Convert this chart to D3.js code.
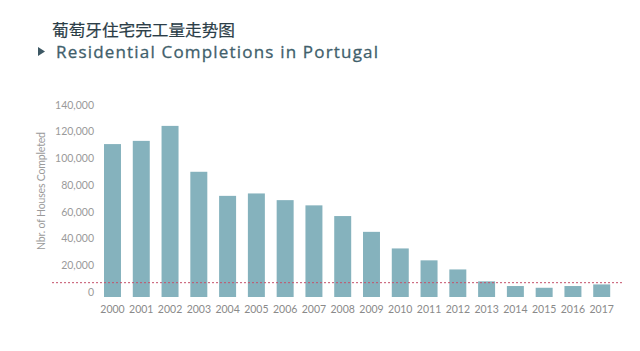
<!DOCTYPE html>
<html>
<head>
<meta charset="utf-8">
<script src="https://cdn.jsdelivr.net/npm/d3@7"></script>
<style>
    body { margin: 0; background: #fff; }
    #chart { width: 640px; height: 351px; }
    text { font-variant-ligatures: none; }
</style>
</head>
<body>
<div id="chart"></div>
<script>
// data
const years = ["2000", "2001", "2002", "2003", "2004", "2005", "2006", "2007", "2008",
    "2009", "2010", "2011", "2012", "2013", "2014", "2015", "2016", "2017"];
const completions = [114300, 116700, 127900, 93600, 75600, 77400, 72400, 68500, 60500,
    48700, 36300, 27400, 20600, 11700, 8200, 6900, 8200, 9400];
const yTicks = [0, 20000, 40000, 60000, 80000, 100000, 120000, 140000];
const refLine = 10700;

const titleCn = "葡萄牙住宅完工量走势图";
const titleEn = "Residential Completions in Portugal";
const yLabel = "Nbr. of Houses Completed";

let width = 640, height = 351;

let svg = d3.select("#chart").append("svg")
    .attr("width", width)
    .attr("height", height);

// titles
svg.append("text")
    .attr("x", 52)
    .attr("y", 36)
    .attr("font-family", "Noto Sans CJK SC")
    .attr("font-size", 16)
    .attr("fill", "#2b3d47")
    .attr("stroke", "#2b3d47")
    .attr("stroke-width", 0.2)
    .attr("textLength", 183)
    .attr("lengthAdjust", "spacingAndGlyphs")
    .text(titleCn);

svg.append("path")
    .attr("d", "M38,47 L45,51.5 L38,56 Z")
    .attr("fill", "#3d5864");

svg.append("text")
    .attr("x", 56)
    .attr("y", 58)
    .attr("font-family", "'Open Sans', sans-serif")
    .attr("font-size", 17)
    .attr("fill", "#41606b")
    .attr("stroke", "#41606b")
    .attr("stroke-width", 0.3)
    .attr("textLength", 322)
    .attr("lengthAdjust", "spacing")
    .text(titleEn);

// scales
let x = d3.scaleBand()
    .domain(years)
    .range([98.1, 616.1])
    .paddingInner(0.41)
    .paddingOuter(0.205);

let y = d3.scaleLinear()
    .domain([0, 140000])
    .range([297, 109.7]);

// x axis labels
let xAxis = d3.axisBottom(x).tickSize(0).tickPadding(0);
let gx = svg.append("g")
    .attr("transform", "translate(0, 306)")
    .call(xAxis);
gx.select(".domain").remove();
gx.selectAll("text")
    .attr("font-family", "Lato, sans-serif")
    .attr("font-size", 10.5)
    .attr("fill", "#8a8a8a");

// y axis labels
let yAxis = d3.axisLeft(y).tickValues(yTicks).tickSize(0).tickPadding(0)
    .tickFormat(d3.format(",d"));
let gy = svg.append("g")
    .attr("transform", "translate(94, -5)")
    .call(yAxis);
gy.select(".domain").remove();
gy.selectAll("text")
    .attr("font-family", "Lato, sans-serif")
    .attr("font-size", 10.5)
    .attr("fill", "#9a9a9a");

svg.append("text")
    .attr("transform", "translate(45, 191) rotate(-90)")
    .attr("text-anchor", "middle")
    .attr("font-family", "Lato, sans-serif")
    .attr("font-size", 10.5)
    .attr("fill", "#9a9a9a")
    .attr("textLength", 118)
    .attr("lengthAdjust", "spacing")
    .text(yLabel);

// bars
svg.selectAll(".bar")
    .data(years)
    .enter().append("rect")
    .attr("class", "bar")
    .attr("x", d => x(d))
    .attr("y", (d, i) => y(completions[i]))
    .attr("width", x.bandwidth())
    .attr("height", (d, i) => y(0) - y(completions[i]))
    .attr("fill", "#85b2bd");

// reference line
svg.append("line")
    .attr("x1", 52)
    .attr("x2", 623)
    .attr("y1", y(refLine))
    .attr("y2", y(refLine))
    .attr("stroke", "#c4506a")
    .attr("stroke-width", 1)
    .attr("stroke-dasharray", "2,2");
</script>
</body>
</html>
